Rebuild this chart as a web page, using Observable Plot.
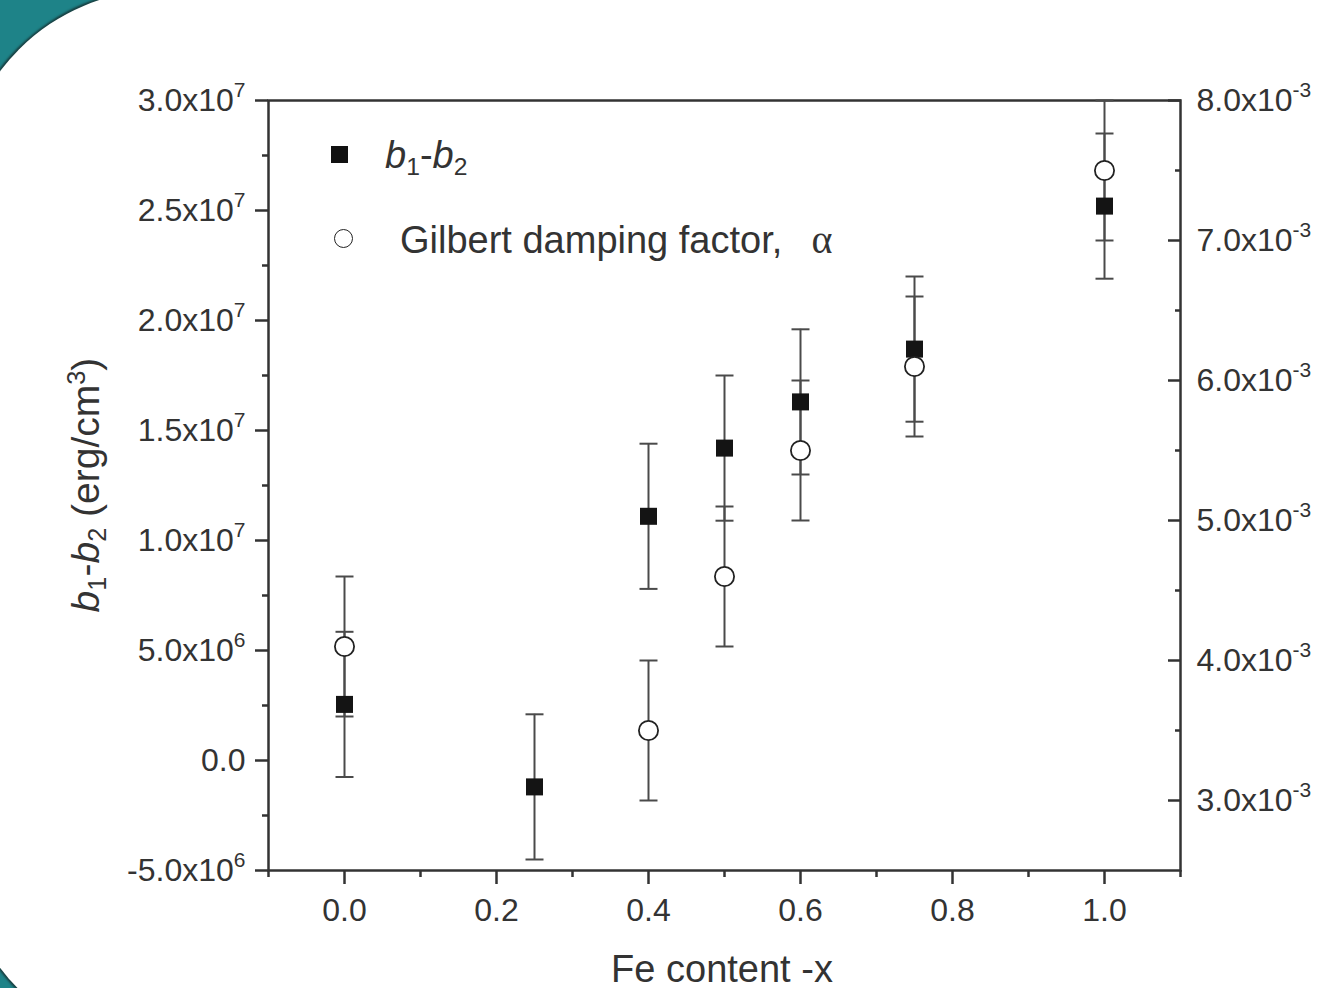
<!DOCTYPE html>
<html><head><meta charset="utf-8">
<script src="https://cdn.jsdelivr.net/npm/d3@7"></script>
<script src="https://cdn.jsdelivr.net/npm/@observablehq/plot@0.6"></script>
<style>
html,body{margin:0;padding:0;width:1318px;height:988px;overflow:hidden;background:#1e8388;font-family:"Liberation Sans",Arial,sans-serif;}
#panel{position:absolute;left:-40px;top:-10px;width:2400px;height:1059px;background:#fff;border-radius:202px;box-shadow:0 0 2px 2px rgba(20,20,20,0.6);}
#chart{position:absolute;left:0;top:0;}
.lbl{position:absolute;color:#333;white-space:nowrap;line-height:1;}
.sub{font-size:0.65em;vertical-align:-0.3em;line-height:0;}
.sup{font-size:0.65em;vertical-align:0.55em;line-height:0;}
</style></head><body>
<div id="panel"></div>
<div id="chart"></div>
<div class="lbl" id="xlabel" style="left:722px;top:950px;font-size:38px;transform:translateX(-50%);">Fe content -x</div>
<div class="lbl" id="ylabel" style="left:85px;top:485px;font-size:39px;transform:translate(-50%,-50%) rotate(-90deg);"><i>b</i><span class="sub">1</span>-<i>b</i><span class="sub">2</span> (erg/cm<span class="sup">3</span>)</div>
<div class="lbl" style="left:331px;top:146px;width:17px;height:17px;background:#111;"></div>
<div class="lbl" style="left:385px;top:136px;font-size:38px;"><i>b</i><span class="sub">1</span>-<i>b</i><span class="sub">2</span></div>
<div class="lbl" style="left:334px;top:229px;border:1.8px solid #222;border-radius:50%;box-sizing:border-box;width:19px;height:19px;"></div>
<div class="lbl" style="left:400px;top:220px;font-size:38px;">Gilbert damping factor,&nbsp;&nbsp;<span style="font-family:'Liberation Serif',serif;font-size:40px;margin-left:8px;">α</span></div>
<script>
// ---- data ----
const feContent = [0, 0.25, 0.4, 0.5, 0.6, 0.75, 1.0];
const b1b2 = [2.55e6, -1.2e6, 1.11e7, 1.42e7, 1.63e7, 1.87e7, 2.52e7];
const b1b2Err = [3.3e6, 3.3e6, 3.3e6, 3.3e6, 3.3e6, 3.3e6, 3.3e6];

const alphaFe = [0, 0.4, 0.5, 0.6, 0.75, 1.0];
const alpha = [4.1e-3, 3.5e-3, 4.6e-3, 5.5e-3, 6.1e-3, 7.5e-3];
const alphaErr = [0.5e-3, 0.5e-3, 0.5e-3, 0.5e-3, 0.5e-3, 0.5e-3];

const xDomain = [-0.1, 1.1];
const xTicks = [0, 0.2, 0.4, 0.6, 0.8, 1.0];
const xMinorTicks = [-0.1, 0.1, 0.3, 0.5, 0.7, 0.9, 1.1];

const yDomain = [-5e6, 3e7];
const yTicks = [-5e6, 0, 5e6, 1e7, 1.5e7, 2e7, 2.5e7, 3e7];
const yTickLabels = ["-5.0x10^6", "0.0", "5.0x10^6", "1.0x10^7", "1.5x10^7", "2.0x10^7", "2.5x10^7", "3.0x10^7"];
const yMinorTicks = [-2.5e6, 2.5e6, 7.5e6, 1.25e7, 1.75e7, 2.25e7, 2.75e7];

const aDomain = [2.5e-3, 8.0e-3];
const aTicks = [3e-3, 4e-3, 5e-3, 6e-3, 7e-3, 8e-3];
const aTickLabels = ["3.0x10^-3", "4.0x10^-3", "5.0x10^-3", "6.0x10^-3", "7.0x10^-3", "8.0x10^-3"];
const aMinorTicks = [3.5e-3, 4.5e-3, 5.5e-3, 6.5e-3, 7.5e-3];

// map right-axis values onto the left scale
const toLeft = a => yDomain[0] + (a - aDomain[0]) / (aDomain[1] - aDomain[0]) * (yDomain[1] - yDomain[0]);

const sq = feContent.map((x, i) => ({x, y: b1b2[i], y1: b1b2[i] - b1b2Err[i], y2: b1b2[i] + b1b2Err[i]}));
const ci = alphaFe.map((x, i) => ({x, y: toLeft(alpha[i]), y1: toLeft(alpha[i] - alphaErr[i]), y2: toLeft(alpha[i] + alphaErr[i])}));

const yLabelMap = new Map(yTicks.map((t, i) => [t, yTickLabels[i]]));
const aLabelMap = new Map(aTicks.map((t, i) => [toLeft(t), aTickLabels[i]]));

const cap = {draw(ctx, size) { const w = Math.sqrt(size / Math.PI); ctx.moveTo(-w, 0); ctx.lineTo(w, 0); }};
const barColor = "#4a4a4a";
const FS = 32;

const svg = Plot.plot({
  width: 1318, height: 988,
  marginLeft: 268, marginRight: 138, marginTop: 100, marginBottom: 118,
  style: {background: "transparent", color: "#333", fontFamily: "'Liberation Sans', Arial, sans-serif", overflow: "visible"},
  x: {domain: xDomain},
  y: {domain: yDomain},
  marks: [
    Plot.axisX(xTicks, {tickSize: 14, tickPadding: 14, fontSize: 32, strokeWidth: 2.5, tickFormat: d => d.toFixed(1), label: null}),
    Plot.axisX(xMinorTicks, {tickSize: 7, strokeWidth: 2.5, text: null, label: null}),
    Plot.axisY(yTicks, {anchor: "left", tickSize: 13, tickPadding: 10, fontSize: FS, strokeWidth: 2.5, tickFormat: d => yLabelMap.get(d), label: null}),
    Plot.axisY(yMinorTicks, {anchor: "left", tickSize: 6, strokeWidth: 2.5, text: null, label: null}),
    Plot.axisY(aTicks.map(toLeft), {anchor: "right", tickSize: -13, strokeWidth: 2.5, text: null, label: null}),
    Plot.axisY(aMinorTicks.map(toLeft), {anchor: "right", tickSize: -6, strokeWidth: 2.5, text: null, label: null}),
    Plot.axisY(aTicks.map(toLeft), {anchor: "right", tickSize: 0, tickPadding: 16, fontSize: FS, tickFormat: d => aLabelMap.get(d), label: null}),
    Plot.frame({stroke: "#333", strokeWidth: 2.5}),
    // error bars
    Plot.ruleX(sq, {x: "x", y1: "y1", y2: "y2", stroke: barColor, strokeWidth: 2}),
    Plot.dot(sq, {x: "x", y: "y1", symbol: cap, r: 9, fill: "none", stroke: barColor, strokeWidth: 2}),
    Plot.dot(sq, {x: "x", y: "y2", symbol: cap, r: 9, fill: "none", stroke: barColor, strokeWidth: 2}),
    Plot.ruleX(ci, {x: "x", y1: "y1", y2: "y2", stroke: barColor, strokeWidth: 2}),
    Plot.dot(ci, {x: "x", y: "y1", symbol: cap, r: 9, fill: "none", stroke: barColor, strokeWidth: 2}),
    Plot.dot(ci, {x: "x", y: "y2", symbol: cap, r: 9, fill: "none", stroke: barColor, strokeWidth: 2}),
    // markers
    Plot.dot(sq, {x: "x", y: "y", symbol: "square", r: 9.6, fill: "#141414", stroke: "none"}),
    Plot.dot(ci, {x: "x", y: "y", symbol: "circle", r: 9.6, fill: "white", stroke: "#222", strokeWidth: 1.8})
  ]
});

// superscripts in tick labels
svg.querySelectorAll("text").forEach(t => {
  const s = t.textContent;
  const k = s.indexOf("^");
  if (k < 0) return;
  t.textContent = s.slice(0, k);
  const ts = document.createElementNS("http://www.w3.org/2000/svg", "tspan");
  ts.setAttribute("dy", "-14");
  ts.setAttribute("font-size", "21");
  ts.textContent = s.slice(k + 1);
  t.appendChild(ts);
});
document.getElementById("chart").appendChild(svg);
</script>
</body></html>
